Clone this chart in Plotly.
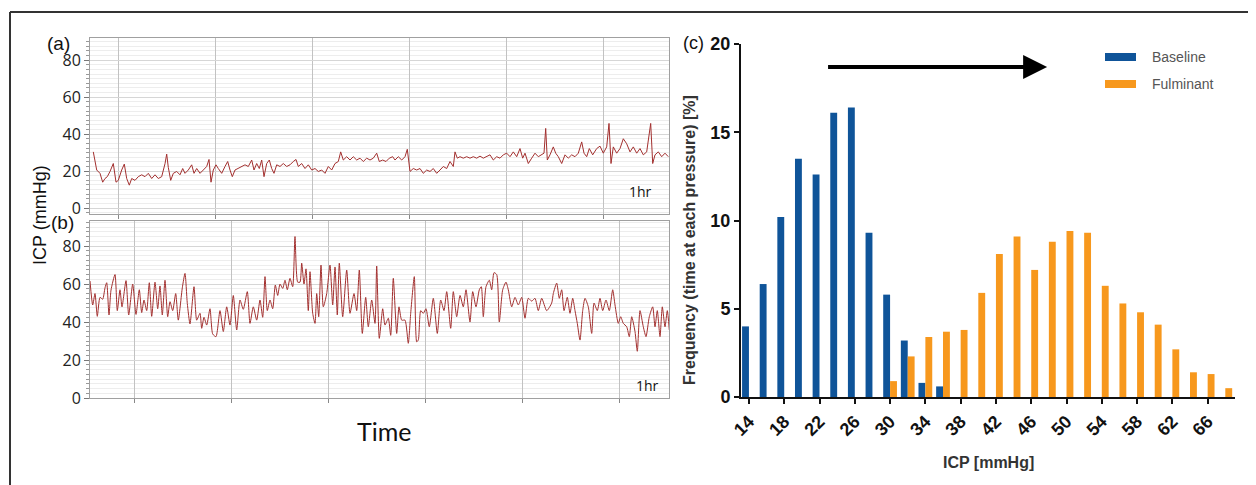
import plotly.graph_objects as go

# ---------------- data ----------------
# Panel (a): baseline ICP trace (time in minutes, ICP in mmHg)
time_a = [0.33, 0.67, 1.0, 1.27, 1.5, 1.73, 2.0, 2.33, 2.6, 2.83, 3.17, 3.43, 3.67, 3.93, 4.17, 4.5, 4.83, 5.17,
          5.5, 5.83, 6.17, 6.5, 6.83, 7.17, 7.5, 7.67, 7.83, 8.07, 8.33, 8.67, 9.0, 9.27, 9.5, 9.83, 10.17, 10.4,
          10.67, 11.0, 11.33, 11.67, 11.9, 12.1, 12.33, 12.6, 12.83, 13.17, 13.5, 13.77, 14.0, 14.23, 14.5, 14.83,
          15.17, 15.5, 15.83, 16.17, 16.4, 16.67, 16.93, 17.17, 17.4, 17.67, 17.93, 18.17, 18.4, 18.67, 19.0, 19.33,
          19.67, 20.0, 20.33, 20.6, 20.83, 21.17, 21.5, 21.83, 22.17, 22.5, 22.83, 23.17, 23.5, 23.83, 24.17, 24.5,
          24.83, 25.07, 25.33, 25.67, 26.0, 26.33, 26.67, 27.0, 27.33, 27.67, 28.0, 28.33, 28.67, 28.93, 29.27, 29.6,
          29.93, 30.27, 30.5, 30.83, 31.17, 31.5, 31.73, 32.0, 32.33, 32.67,
          33.0, 33.33, 33.67, 34.0, 34.33, 34.67, 35.0, 35.33, 35.67, 36.0, 36.33, 36.5, 36.73, 37.0, 37.33, 37.67,
          38.0, 38.33, 38.67, 39.0, 39.33, 39.67, 40.0, 40.33, 40.67, 41.0, 41.33, 41.67, 42.0, 42.33, 42.67, 43.0,
          43.27, 43.5, 43.83, 44.17, 44.5, 44.83, 45.17, 45.4, 45.57, 45.73, 46.0, 46.33, 46.57, 46.83, 47.17, 47.5,
          47.83, 48.17, 48.5, 48.83, 49.17, 49.4, 49.67, 49.93, 50.27, 50.67, 51.0, 51.33, 51.67, 51.9, 52.1, 52.33,
          52.67, 53.0, 53.33, 53.67, 54.0, 54.33, 54.67, 55.0, 55.33, 55.67, 56.07, 56.27, 56.5, 56.83, 57.17, 57.5,
          57.83]
icp_a = [30.4, 20.6, 18.8, 14.0, 16.0, 17.0, 19.8, 24.1, 14.0, 15.0, 20.6, 23.8, 16.0, 12.4, 16.0, 15.0, 17.0, 18.0,
         17.0, 18.8, 16.0, 18.0, 16.0, 17.0, 24.0, 29.2, 22.0, 15.0, 18.8, 19.8, 18.0, 21.4, 18.8, 20.6, 23.4, 18.8,
         21.4, 18.8, 20.6, 22.5, 26.3, 14.0, 20.6, 23.4, 21.4, 18.8, 22.5, 25.2, 20.6, 17.0, 20.6, 21.4,
         22.5, 23.4, 22.5, 26.0, 20.6, 24.1, 21.4, 26.0, 17.0, 24.1, 26.0, 21.4, 18.8, 23.4, 22.5, 24.1,
         22.5, 23.4, 25.2, 26.3, 22.5, 24.1, 21.4, 23.4, 20.6, 21.4, 19.8, 20.6, 18.8, 22.5, 20.6, 24.1,
         25.2, 30.4, 26.0, 27.8, 26.0, 27.8, 26.0, 27.0, 25.2, 27.0, 26.0, 27.0, 29.7, 25.2, 26.0, 25.2,
         27.0, 27.8, 26.0, 27.8, 26.0, 27.8, 31.8, 19.8, 21.4, 20.6,
         21.4, 18.8, 20.6, 19.8, 21.4, 18.8, 20.6, 22.5, 21.4, 25.2, 22.5, 30.4, 27.0, 27.8, 27.0, 27.8,
         27.0, 27.8, 27.0, 28.1, 27.0, 27.8, 28.8, 26.0, 27.8, 27.0, 28.8, 29.7, 27.8, 30.4, 27.8, 32.2,
         27.0, 29.7, 24.1, 27.0, 29.7, 27.8, 28.8, 29.7, 43.1, 26.0, 28.8, 33.1, 29.7, 27.8, 24.1, 28.8,
         27.0, 28.8, 27.8, 29.7, 35.8, 29.7, 27.8, 32.2, 28.8, 32.2, 33.5, 29.7, 33.1, 45.8, 24.1, 33.1,
         29.7, 32.2, 37.5, 34.8, 30.4, 33.1, 29.7, 32.2, 28.8, 30.4, 45.8, 24.1, 28.8, 30.4, 27.8, 29.7,
         27.8]

# Panel (b): fulminant ICP trace
time_b = [0.0, 0.27, 0.5, 0.73, 1.0, 1.27, 1.5, 1.67, 1.9, 2.1, 2.5, 2.73, 3.0, 3.2, 3.6, 3.87, 4.27, 4.6, 4.93,
          5.17, 5.4, 5.67, 5.93, 6.17, 6.5, 6.77, 7.0, 7.23, 7.5, 7.77, 8.0, 8.27, 8.57, 8.83, 9.23, 9.5, 9.73,
          10.0, 10.4, 10.67, 11.0, 11.17, 11.4, 11.67, 12.0, 12.27, 12.6, 13.0, 13.33, 13.67, 14.0, 14.33, 14.67,
          15.0, 15.33, 15.73, 16.0, 16.33, 16.67, 17.0, 17.27, 17.5, 17.73, 18.0, 18.27, 18.53, 18.77, 19.0,
          19.27, 19.5, 19.73, 20.0, 20.27, 20.5, 20.77, 21.0, 21.17, 21.4, 21.6, 21.83, 22.0, 22.27, 22.5, 22.67,
          22.87, 23.1, 23.33, 23.67, 24.0, 24.27, 24.5, 24.73, 24.93, 25.27, 25.67, 26.0, 26.4, 26.67, 26.93,
          27.23, 27.57, 27.83, 28.17, 28.5, 28.67, 28.93, 29.27, 29.5, 29.83, 30.07, 30.33, 30.67, 30.9, 31.17,
          31.5, 31.83, 32.07, 32.43, 32.67,
          32.83, 33.07, 33.33, 33.6, 33.93, 34.33, 34.73, 35.07, 35.4, 35.67, 36.07, 36.33, 36.67, 37.0, 37.33,
          37.6, 38.0, 38.27, 38.6, 38.93, 39.13, 39.33, 39.6, 39.93, 40.17, 40.4, 40.67, 40.93, 41.27, 41.6,
          41.83, 42.17, 42.5, 42.83, 43.17, 43.5, 43.83, 44.17, 44.5, 44.83, 45.17, 45.67, 46.17, 46.33, 46.67,
          46.93, 47.17, 47.4, 47.73, 48.0, 48.27, 48.5, 48.73, 49.0, 49.27, 49.5, 49.83, 50.17, 50.4, 50.73,
          51.0, 51.27, 51.6, 51.93, 52.27, 52.5, 52.83, 53.07, 53.33, 53.67, 53.93, 54.17, 54.5, 54.73, 55.0,
          55.33, 55.6, 55.93, 56.27, 56.5, 56.73, 57.0, 57.23, 57.5, 57.73, 57.93]
icp_b = [61.6, 49.0, 55.0, 43.0, 53.0, 52.0, 58.0, 60.7, 43.7, 56.8, 65.0, 46.0, 57.0, 48.0, 61.8, 43.7, 60.0, 44.0, 57.0,
         45.0, 51.6, 46.0, 60.7, 43.0, 61.0, 47.0, 59.0, 43.7, 62.0, 42.8, 50.7, 46.0, 55.0, 41.0, 58.0, 65.6, 49.8,
         39.0, 58.6, 41.0, 44.6, 36.7, 42.5, 38.4, 47.0, 33.7, 32.3, 46.0, 35.0, 48.0, 38.4, 54.0, 35.8,
         51.6, 46.7, 56.0, 39.3, 48.0, 41.0, 51.6, 42.5, 63.9, 46.0, 51.6, 47.0, 59.5, 54.0, 60.0,
         57.7, 62.0, 57.0, 63.0, 58.6, 85.0, 61.0, 61.0, 71.0, 60.0, 68.0, 46.0, 66.5, 44.6, 39.3, 55.0,
         42.8, 70.0, 48.0, 55.0, 70.0, 49.0, 69.0, 43.7, 71.0, 42.8, 67.4, 44.6, 55.0, 46.0, 67.4,
         34.0, 53.0, 37.5, 51.6, 39.3, 69.5, 31.4, 47.0, 38.4, 42.0, 33.0, 63.0, 34.0, 48.0, 41.0,
         41.0, 28.8, 44.6, 63.9, 29.6,
         30.5, 46.0, 44.6, 47.0, 37.5, 52.5, 34.0, 51.6, 46.0, 56.0, 36.7, 56.0, 42.8, 54.0, 48.0,
         57.0, 40.0, 56.0, 48.0, 57.0, 58.6, 42.8, 58.6, 62.0, 57.0, 66.0, 65.0, 40.0, 57.0, 61.0,
         57.0, 48.0, 53.0, 49.0, 53.0, 42.0, 52.5, 51.0, 52.5, 46.0, 52.5, 46.0, 50.0, 55.0, 60.5,
         52.5, 57.0, 46.0, 53.0, 44.6, 52.5, 46.0, 39.3, 30.5, 46.0, 52.5, 48.0, 34.0, 50.0, 46.0,
         52.5, 46.0, 51.6, 46.0, 57.0, 49.0, 39.3, 42.8, 39.3, 37.5, 32.3, 42.8, 35.0, 24.6, 46.0,
         37.5, 32.3, 42.8, 48.0, 37.5, 46.0, 32.3, 48.0, 37.5, 46.0, 35.8]

# Panel (c): histogram of time at each pressure
icp_bins = [14, 16, 18, 20, 22, 24, 26, 28, 30, 32, 34, 36, 38, 40, 42, 44, 46, 48, 50, 52, 54, 56, 58, 60,
            62, 64, 66, 68]
baseline_pct = [4.0, 6.4, 10.2, 13.5, 12.6, 16.1, 16.4, 9.3, 5.8, 3.2, 0.8, 0.6, 0, 0, 0, 0, 0, 0, 0, 0, 0, 0,
                0, 0, 0, 0, 0, 0]
fulminant_pct = [0, 0, 0, 0, 0, 0, 0, 0, 0.9, 2.3, 3.4, 3.7, 3.8, 5.9, 8.1, 9.1, 7.2, 8.8, 9.4, 9.3, 6.3, 5.3,
                 4.8, 4.1, 2.7, 1.4, 1.3, 0.5]
hist_ticks = [14, 18, 22, 26, 30, 34, 38, 42, 46, 50, 54, 58, 62, 66]
icp_ticks = [0, 20, 40, 60, 80]
series_names = ["Baseline", "Fulminant"]

# ---------------- style ----------------
# The page places the figure 8 px in from the top-left corner, so the figure is
# 8 px smaller than the window and every screen position is shifted by 8 px.
PAGE_OFF = 8
W, H = 1256 - PAGE_OFF, 485 - PAGE_OFF
TRACE_COLOR = "#a3302f"
BLUE = "#0f5499"
ORANGE = "#f7981d"


def px_x(p):
    return (p - PAGE_OFF) / W


def px_y(p):
    return 1 - (p - PAGE_OFF) / H


fig = go.Figure()

fig.add_trace(go.Scatter(x=time_a, y=icp_a, mode="lines", line=dict(color=TRACE_COLOR, width=1),
                         xaxis="x", yaxis="y", showlegend=False))
fig.add_trace(go.Scatter(x=time_b, y=icp_b, mode="lines",
                         line=dict(color=TRACE_COLOR, width=1, shape="spline", smoothing=0.6),
                         xaxis="x2", yaxis="y2", showlegend=False))

BAR_W = 0.78
fig.add_trace(go.Bar(x=icp_bins, y=baseline_pct, name=series_names[0], marker=dict(color=BLUE, line=dict(width=0)),
                     width=BAR_W, offset=-BAR_W, xaxis="x3", yaxis="y3", showlegend=False))
fig.add_trace(go.Bar(x=icp_bins, y=fulminant_pct, name=series_names[1], marker=dict(color=ORANGE, line=dict(width=0)),
                     width=BAR_W, offset=0, xaxis="x3", yaxis="y3", showlegend=False))

left_x_common = dict(showticklabels=False, ticks="outside", ticklen=4, tickcolor="#888", dtick=9.7,
                     showgrid=True, gridcolor="#c2c2c2", gridwidth=1, zeroline=False, automargin=False,
                     showline=True, mirror=True, linecolor="#a0a0a0", linewidth=1, range=[0, 57.9])
left_y_common = dict(tickvals=icp_ticks, ticks="outside", ticklen=5, tickcolor="#777", automargin=False,
                     tickfont=dict(family="Open Sans", size=16, color="#222"),
                     showgrid=True, gridcolor="#d6d6d6", gridwidth=1, zeroline=False,
                     showline=True, mirror=True, linecolor="#a0a0a0", linewidth=1,
                     minor=dict(dtick=2.5, ticks="outside", ticklen=3, tickcolor="#999",
                                showgrid=True, gridcolor="#ededed"))

HIST_TICK_FONT = dict(family="Liberation Sans", size=18, color="#111", weight="bold")

fig.update_layout(
    width=W, height=H, margin=dict(l=0, r=0, t=0, b=0, autoexpand=False),
    paper_bgcolor="white", plot_bgcolor="white", barmode="overlay",
    xaxis=dict(domain=[px_x(90), px_x(669)], anchor="y", tick0=2.8, **left_x_common),
    yaxis=dict(domain=[px_y(214), px_y(38)], anchor="x", range=[-3.2, 92], **left_y_common),
    xaxis2=dict(domain=[px_x(90), px_x(669)], anchor="y2", tick0=4.4, **left_x_common),
    yaxis2=dict(domain=[px_y(398), px_y(221)], anchor="x2", range=[0, 93.2], **left_y_common),
    xaxis3=dict(domain=[px_x(741), px_x(1235)], anchor="y3", range=[13.1, 69.1], automargin=False,
                tickvals=hist_ticks, tickangle=-45, ticks="outside", ticklen=5, tickwidth=2, tickcolor="#111",
                tickfont=HIST_TICK_FONT,
                showline=True, linecolor="#111", linewidth=2, showgrid=False, zeroline=False),
    yaxis3=dict(domain=[px_y(397), px_y(44)], anchor="x3", range=[0, 20], dtick=5, automargin=False,
                ticks="outside", ticklen=5, tickwidth=2, tickcolor="#111",
                tickfont=HIST_TICK_FONT,
                showline=True, linecolor="#111", linewidth=2, showgrid=False, zeroline=False),
)

ann = []


def text(x, y, s, size, family="Liberation Sans", color="#111", angle=0, bold=False, xanchor="center"):
    ann.append(dict(x=px_x(x), y=px_y(y), xref="paper", yref="paper", text=s, showarrow=False,
                    textangle=angle, xanchor=xanchor, yanchor="middle",
                    font=dict(family=family, size=size, color=color, weight="bold" if bold else "normal")))


text(58, 43, "(a)", 19)
text(62, 222, "(b)", 19)
text(693, 43, "(c)", 18)
text(40, 215, "ICP (mmHg)", 18, angle=-90)
text(384, 431, "Time", 25, family="Lato")
text(640, 191, "1hr", 14, family="Open Sans")
text(647, 385, "1hr", 14, family="Open Sans")
text(689, 240, "Frequency (time at each pressure) [%]", 16, angle=-90, bold=True, color="#333")
text(988, 462, "ICP [mmHg]", 16, bold=True, color="#333")
text(1150, 57, series_names[0], 14, color="#555", xanchor="left")
text(1150, 84, series_names[1], 14, color="#555", xanchor="left")

# arrow indicating shift from baseline to fulminant
ann.append(dict(x=47.8, y=18.7, xref="x3", yref="y3", ax=22.8, ay=18.7, axref="x3", ayref="y3",
                showarrow=True, arrowhead=2, arrowsize=1.2, arrowwidth=4, arrowcolor="black", text=""))
fig.update_layout(annotations=ann)

shapes = [
    dict(type="line", xref="paper", yref="paper", x0=px_x(10), x1=1, y0=px_y(12), y1=px_y(12),
         line=dict(color="#333", width=2)),
    dict(type="line", xref="paper", yref="paper", x0=px_x(10), x1=px_x(10), y0=px_y(12), y1=0,
         line=dict(color="#333", width=2)),
    dict(type="rect", xref="paper", yref="paper", x0=px_x(1105), x1=px_x(1136), y0=px_y(61), y1=px_y(53),
         fillcolor=BLUE, line=dict(width=0)),
    dict(type="rect", xref="paper", yref="paper", x0=px_x(1105), x1=px_x(1136), y0=px_y(88), y1=px_y(80),
         fillcolor=ORANGE, line=dict(width=0)),
]
fig.update_layout(shapes=shapes)

fig.write_html("out.html")
